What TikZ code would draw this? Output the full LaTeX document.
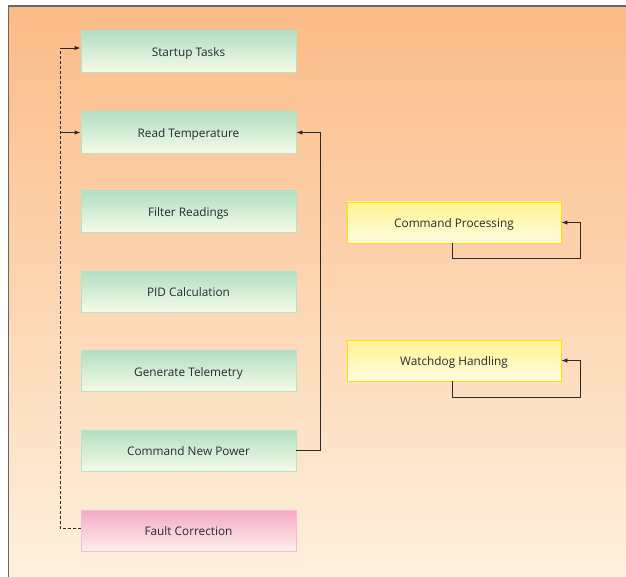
\documentclass[tikz,border=0pt]{standalone}
\usepackage{fontspec}
\setmainfont{Open Sans}
\usetikzlibrary{arrows.meta}
\definecolor{bgtop}{HTML}{FBBB87}
\definecolor{bgbot}{HTML}{FEF0DC}
\definecolor{grtop}{HTML}{B2DEC3}
\definecolor{grbot}{HTML}{F6FBE8}
\definecolor{grline}{HTML}{B4E2CA}
\definecolor{pktop}{HTML}{F4A8C8}
\definecolor{pkbot}{HTML}{FDF0E8}
\definecolor{pkline}{HTML}{F7BAD5}
\definecolor{yltop}{HTML}{FFF494}
\definecolor{ylbot}{HTML}{FFFBDF}
\definecolor{ylline}{HTML}{FFE100}
\definecolor{txt}{HTML}{2A2A2A}
\definecolor{framecol}{HTML}{666666}
\tikzset{
  box/.style={minimum width=215pt, minimum height=41pt, inner sep=0pt, line width=0.9pt,
    font=\fontsize{11.8}{13}\selectfont, text=txt, text height=10pt, text depth=0pt},
  greenbox/.style={box, draw=grline, top color=grtop, bottom color=grbot},
  pinkbox/.style={box, draw=pkline, top color=pktop, bottom color=pkbot},
  yellowbox/.style={box, draw=ylline, top color=yltop, bottom color=ylbot, minimum width=214pt},
  conn/.style={draw=txt, line width=0.9pt},
  arr/.style={conn, -{Latex[length=6pt,width=4.5pt]}},
  dashline/.style={conn, dash pattern=on 3pt off 2pt}
}
\begin{document}
\begin{tikzpicture}[x=1pt,y=-1pt]
\useasboundingbox (0,0) rectangle (626,577);
\fill[white] (0,0) rectangle (626,577);
\shade[top color=bgtop, bottom color=bgbot] (8.5,6) rectangle (626,577);
\draw[framecol, line width=1.4pt] (8.5,577) -- (8.5,6) -- (626,6);

\node[greenbox] (st)  at (188.5,51.5) {Startup Tasks};
\node[greenbox] (rt)  at (188.5,132.5) {Read Temperature};
\node[greenbox] (fr)  at (188.5,211.5) {Filter Readings};
\node[greenbox] (pid) at (188.5,291.5) {PID Calculation};
\node[greenbox] (gt)  at (188.5,371) {Generate Telemetry};
\node[greenbox] (cnp) at (188.5,450.5) {Command New Power};
\node[pinkbox]  (fc)  at (188.5,530.5) {Fault Correction};
\node[yellowbox] (cp) at (454,222.5) {Command Processing};
\node[yellowbox] (wd) at (454,360.5) {Watchdog Handling};

\coordinate (dl) at (60,0);
\draw[dashline] ([yshift=2.5pt]fc.west) -- ([yshift=2.5pt]fc.west -| dl) -- ([yshift=3.5pt]st.west -| dl);
\draw[arr] ([yshift=3.5pt]st.west -| dl) -- ([yshift=3.5pt]st.west);
\draw[arr] (rt.west -| dl) -- (rt.west);

\draw[arr] (cnp.east) -- ++(24,0) |- (rt.east);

\draw[arr] ([xshift=-2pt]cp.south) -- ++(0,15) -| ([xshift=19pt]cp.east) -- (cp.east);
\draw[arr] ([xshift=-2pt]wd.south) -- ++(0,15.5) -| ([xshift=19pt]wd.east) -- (wd.east);
\end{tikzpicture}
\end{document}
